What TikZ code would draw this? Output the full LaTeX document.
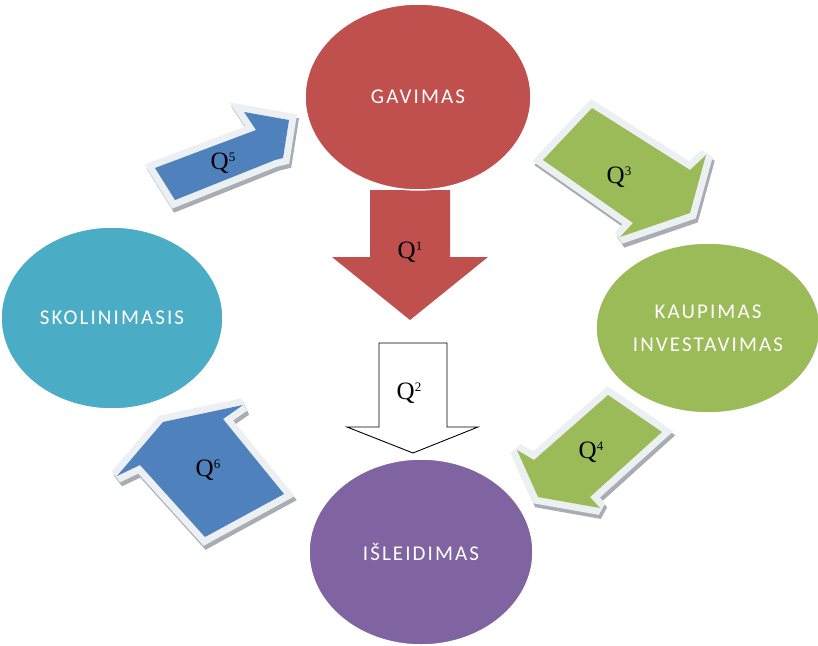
\documentclass[tikz,border=0pt]{standalone}
\usepackage{fontspec}
\setmainfont{Liberation Serif}
\newfontfamily\capfont[LetterSpace=10]{Carlito}
\usetikzlibrary{shapes.geometric}

\definecolor{cred}{HTML}{C0504D}
\definecolor{cblue}{HTML}{4F81BD}
\definecolor{cgreen}{HTML}{9BBB59}
\definecolor{cpurple}{HTML}{8064A2}
\definecolor{cteal}{HTML}{4BACC6}
\definecolor{framegray}{HTML}{EDF0F3}
\definecolor{shadegray}{HTML}{A7ADB2}

\newcommand\qmark[1]{Q\raisebox{7.5pt}{\fontsize{13}{13}\selectfont #1}}

\tikzset{
  bubble/.style={ellipse, inner sep=0pt, draw=white, line width=1.5pt,
    text=white, align=center, font=\capfont\fontsize{21}{33}\selectfont},
  qlabel/.style={inner sep=0pt, font=\fontsize{25}{28}\selectfont},
  arrowframe/.style={draw=framegray, fill=framegray, line width=14pt,
    line join=miter, miter limit=3},
  arrowshade/.style={draw=shadegray, fill=shadegray, line width=14pt,
    line join=miter, miter limit=3},
}

\begin{document}
\begin{tikzpicture}[x=1pt,y=-1pt]
\useasboundingbox (0,0) rectangle (818,645);

% straight arrow from GAVIMAS downwards
\fill[cred] (370,190) -- (450,190) -- (450,257) -- (488,257) -- (410,320)
  -- (332,257) -- (370,257) -- cycle;
\node[qlabel] (q1) at (410,252) {\qmark{1}};

% outlined arrow towards IŠLEIDIMAS
\draw[black, line width=0.9pt, fill=white] (379,343) -- (447,343) -- (447,427)
  -- (478,427) -- (413,453) -- (347,427) -- (379,427) -- cycle;
\node[qlabel] (q2) at (409,393) {\qmark{2}};

% the four stages
\node[bubble, fill=cred, minimum width=226pt, minimum height=186pt]
  (gavimas) at (418,97) {GAVIMAS};
\node[bubble, fill=cteal, minimum width=222pt, minimum height=182pt]
  (skolinimasis) at (112,318) {SKOLINIMASIS};
\node[bubble, fill=cgreen, minimum width=224pt, minimum height=170pt]
  (kaupimas) at (708,328) {KAUPIMAS\\INVESTAVIMAS};
\node[bubble, fill=cpurple, minimum width=224pt, minimum height=186pt]
  (isleidimas) at (421,552) {IŠLEIDIMAS};

% bevelled arrows: shadow, light frame, coloured face
\def\qfive{(155,168) -- (256,130) -- (244,112) -- (289,120) -- (283,158) -- (275,160) -- (175,200) -- cycle}
\def\qthree{(543,160) -- (592,108) -- (690,170) -- (706,155) -- (690,213) -- (620,237) -- (633,223) -- cycle}
\def\qsix{(163,422) -- (243,405) -- (223,419) -- (284,494) -- (205,537) -- (140,465) -- (117,476) -- cycle}
\def\qfour{(608,395) -- (662,432) -- (590,497) -- (600,508) -- (538,497) -- (517,450) -- (534,460) -- cycle}

\foreach \shape/\col in {\qfive/cblue, \qthree/cgreen, \qsix/cblue, \qfour/cgreen}{
  \begin{scope}[shift={(2,4)}]
    \path[arrowshade] \shape;
  \end{scope}
  \path[arrowframe] \shape;
  \fill[\col] \shape;
}

\node[qlabel] (q5) at (223,163) {\qmark{5}};
\node[qlabel] (q3) at (619,177) {\qmark{3}};
\node[qlabel] (q6) at (208,470) {\qmark{6}};
\node[qlabel] (q4) at (591,452) {\qmark{4}};
\end{tikzpicture}
\end{document}
